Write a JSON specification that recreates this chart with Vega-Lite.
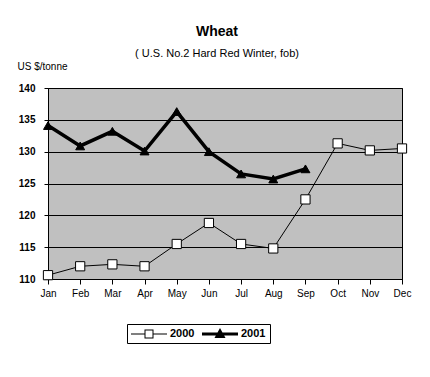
{
  "$schema": "https://vega.github.io/schema/vega-lite/v6.json",
  "width": 354,
  "height": 191,
  "autosize": {"type": "none"},
  "padding": {"left": 48, "top": 88, "right": 28, "bottom": 98},
  "background": "white",
  "title": {
    "text": "Wheat",
    "subtitle": "( U.S. No.2 Hard Red Winter, fob)",
    "anchor": "middle",
    "dx": -8,
    "font": "Liberation Sans",
    "fontSize": 14,
    "fontWeight": "bold",
    "color": "black",
    "subtitleFont": "Liberation Sans",
    "subtitleFontSize": 11,
    "subtitleColor": "black",
    "subtitlePadding": 9,
    "offset": 2
  },
  "data": {
    "values": [
      {"month": "Jan", "m": 1, "year": "2000", "price": 110.6},
      {"month": "Feb", "m": 2, "year": "2000", "price": 112.0},
      {"month": "Mar", "m": 3, "year": "2000", "price": 112.3},
      {"month": "Apr", "m": 4, "year": "2000", "price": 112.0},
      {"month": "May", "m": 5, "year": "2000", "price": 115.5},
      {"month": "Jun", "m": 6, "year": "2000", "price": 118.8},
      {"month": "Jul", "m": 7, "year": "2000", "price": 115.5},
      {"month": "Aug", "m": 8, "year": "2000", "price": 114.8},
      {"month": "Sep", "m": 9, "year": "2000", "price": 122.5},
      {"month": "Oct", "m": 10, "year": "2000", "price": 131.3},
      {"month": "Nov", "m": 11, "year": "2000", "price": 130.2},
      {"month": "Dec", "m": 12, "year": "2000", "price": 130.5},
      {"month": "Jan", "m": 1, "year": "2001", "price": 134.1},
      {"month": "Feb", "m": 2, "year": "2001", "price": 130.9},
      {"month": "Mar", "m": 3, "year": "2001", "price": 133.2},
      {"month": "Apr", "m": 4, "year": "2001", "price": 130.1},
      {"month": "May", "m": 5, "year": "2001", "price": 136.3},
      {"month": "Jun", "m": 6, "year": "2001", "price": 130.0},
      {"month": "Jul", "m": 7, "year": "2001", "price": 126.5},
      {"month": "Aug", "m": 8, "year": "2001", "price": 125.7},
      {"month": "Sep", "m": 9, "year": "2001", "price": 127.3}
    ]
  },
  "encoding": {
    "x": {
      "field": "m",
      "type": "quantitative",
      "title": null,
      "scale": {"domain": [1, 12], "nice": false, "zero": false},
      "axis": {
        "values": [1, 2, 3, 4, 5, 6, 7, 8, 9, 10, 11, 12],
        "labelExpr": "['Jan','Feb','Mar','Apr','May','Jun','Jul','Aug','Sep','Oct','Nov','Dec'][datum.value-1]",
        "grid": false,
        "tickColor": "black",
        "tickSize": 5,
        "domainColor": "black",
        "labelFont": "Liberation Sans",
        "labelFontSize": 10,
        "labelColor": "black",
        "labelPadding": 4,
        "labelFlush": false
      }
    },
    "y": {
      "field": "price",
      "type": "quantitative",
      "title": "US $/tonne",
      "scale": {"domain": [110, 140], "nice": false, "zero": false},
      "axis": {
        "values": [110, 115, 120, 125, 130, 135, 140],
        "grid": true,
        "gridColor": "black",
        "gridOpacity": 1,
        "gridWidth": 1,
        "domainColor": "black",
        "tickColor": "black",
        "tickSize": 4,
        "labelPadding": 9,
        "labelFont": "Liberation Sans",
        "labelFontWeight": "bold",
        "labelFontSize": 10,
        "labelColor": "black",
        "titleAngle": 0,
        "titleX": -31,
        "titleY": -19,
        "titleAlign": "left",
        "titleBaseline": "alphabetic",
        "titleFont": "Liberation Sans",
        "titleFontSize": 10,
        "titleFontWeight": "normal",
        "titleColor": "black"
      }
    }
  },
  "layer": [
    {
      "transform": [{"filter": "datum.year === '2000'"}],
      "mark": {"type": "line", "color": "black", "strokeWidth": 1}
    },
    {
      "transform": [{"filter": "datum.year === '2001'"}],
      "mark": {"type": "line", "color": "black", "strokeWidth": 3.5}
    },
    {
      "transform": [{"filter": "datum.year === '2000'"}],
      "mark": {"type": "point", "shape": "square", "filled": true, "fill": "white", "stroke": "black", "strokeWidth": 1, "size": 85, "opacity": 1}
    },
    {
      "transform": [{"filter": "datum.year === '2001'"}],
      "mark": {"type": "point", "shape": "triangle-up", "filled": true, "fill": "black", "stroke": "black", "strokeWidth": 1, "size": 80, "opacity": 1}
    },
    {
      "mark": {"type": "point", "filled": true, "color": "black", "opacity": 0, "size": 144},
      "encoding": {
        "shape": {
          "field": "year",
          "type": "nominal",
          "scale": {"domain": ["2000", "2001"], "range": [
            "M-1,-0.083H1.25V0.083H-1ZM2.75,-0.083H5V0.083H2.75ZM1.25,-0.75H2.75V0.75H1.25ZM1.4167,-0.5833V0.5833H2.5833V-0.5833Z",
            "M-1,-0.25H5V0.25H-1ZM2,-1L2.92,0.67H1.08Z"
          ]},
          "legend": {
            "orient": "none", "legendX": 79, "legendY": 236, "direction": "horizontal", "title": null,
            "strokeColor": "black", "fillColor": "white", "padding": 4, "symbolOpacity": 1,
            "symbolFillColor": "black", "symbolStrokeColor": "transparent", "symbolStrokeWidth": 0,
            "symbolSize": 144, "labelFont": "Liberation Sans", "labelFontWeight": "bold", "labelFontSize": 11,
            "labelColor": "black", "columnPadding": 7, "labelOffset": 27
          }
        }
      }
    }
  ],
  "config": {
    "view": {"fill": "#c0c0c0", "stroke": "black", "strokeWidth": 1},
    "font": "Liberation Sans"
  }
}
